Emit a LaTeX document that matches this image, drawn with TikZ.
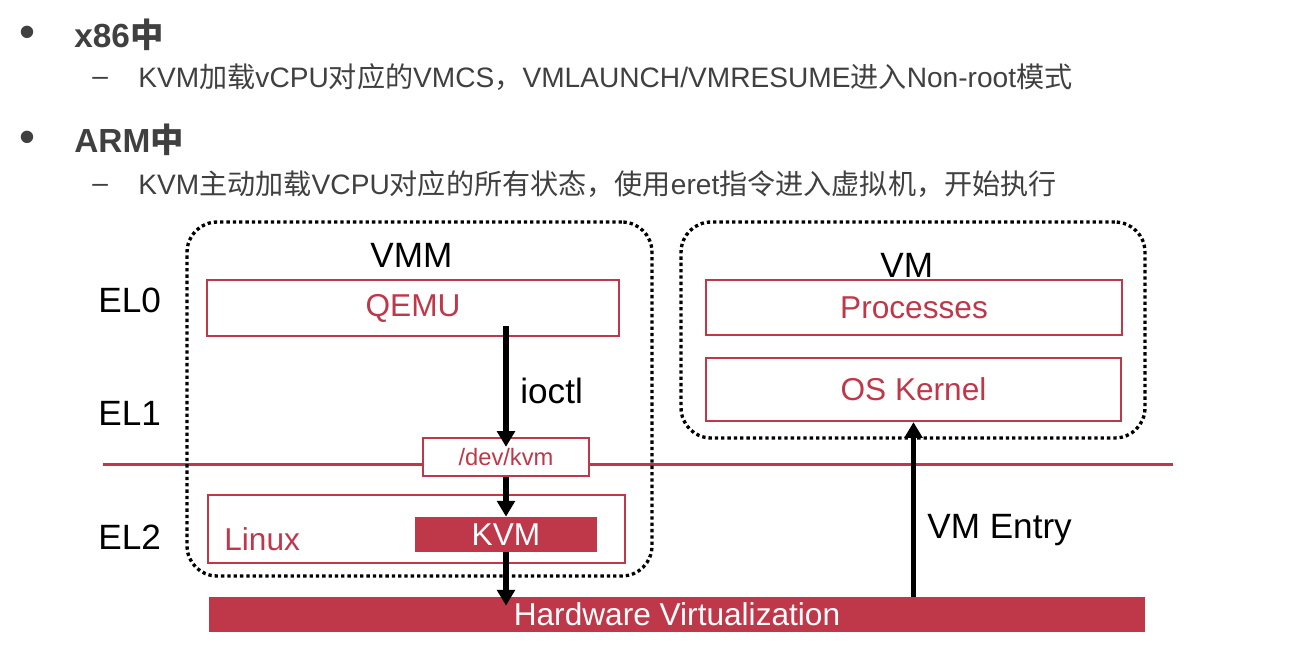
\documentclass[tikz,border=0pt]{standalone}
\usepackage{fontspec}
\setmainfont{Liberation Sans}
\newfontfamily\cjk{Noto Sans CJK SC}
\usetikzlibrary{arrows.meta}
\definecolor{kvmred}{RGB}{191,56,73}
\definecolor{textgray}{RGB}{64,64,64}
\newcommand{\zh}[1]{{\cjk #1}}
\newcommand{\fs}[1]{\fontsize{#1}{#1}\selectfont}

\begin{document}
\begin{tikzpicture}[x=0.02cm,y=-0.02cm,
	redbox/.style={draw=kvmred,line width=1.3pt,text=kvmred,font=\fs{18},inner sep=0pt},
	redfill/.style={fill=kvmred,text=white,font=\fs{18},inner sep=0pt},
	dotbox/.style={draw,line width=1.9pt,dash pattern=on 1.9pt off 1.7pt,rounded corners=0.6cm},
	label/.style={font=\fs{20},inner sep=0pt,anchor=base west},
	bigarrow/.style={line width=3pt,-{Triangle[width=10pt,length=9pt]}},
	head/.style={text=textgray,inner sep=0pt,anchor=base west}]
	\useasboundingbox (0,0) rectangle (1302,656);

	% text above the diagram
	\node[head,font=\fs{26}] (dot1) at (19,47) {•};
	\node[head,font=\fs{19}\bfseries] (x86) at (74,47) {x86\zh{中}};
	\node[head,font=\fs{16}] (dash1) at (92,85) {–};
	\node[head,font=\fs{16}] (x86text) at (138,87)
		{KVM\zh{加载}vCPU\zh{对应的}VMCS\zh{，}VMLAUNCH/VMRESUME\zh{进入}Non-root\zh{模式}};
	\node[head,font=\fs{26}] (dot2) at (19,152) {•};
	\node[head,font=\fs{19}\bfseries] (arm) at (74,152) {ARM\zh{中}};
	\node[head,font=\fs{16}] (dash2) at (92,192) {–};
	\node[head,font=\fs{16}] (armtext) at (138,194)
		{KVM\zh{主动加载}VCPU\zh{对应的所有状态，使用}eret\zh{指令进入虚拟机，开始执行}};

	% exception levels
	\coordinate (elleft) at (103,464);
	\coordinate (elright) at (1173,464);
	\draw[kvmred,line width=1.7pt] (elleft) -- (elright);
	\node[label] (el0) at (98,312) {EL0};
	\node[label] (el1) at (98,425) {EL1};
	\node[label] (el2) at (98,549) {EL2};

	% VMM side
	\node[dotbox,minimum width=9.3cm,minimum height=7.08cm] (vmm) at (419.5,399) {};
	\node[label] (vmmtitle) at (370,267) {VMM};
	\node[redbox,minimum width=8.24cm,minimum height=1.12cm] (qemu) at (413,308) {QEMU};
	\node[redbox,fill=white,font=\fs{13.5},minimum width=3.32cm,minimum height=0.76cm] (devkvm) at (506,457) {/dev/kvm};
	\node[redbox,minimum width=8.34cm,minimum height=1.36cm] (linux) at (416.5,529) {};
	\node[label,text=kvmred,font=\fs{18}] (linuxtitle) at (224,550) {Linux};
	\node[redfill,minimum width=3.64cm,minimum height=0.7cm] (kvm) at (506,534.5) {KVM};

	% VM side
	\node[dotbox,minimum width=9.28cm,minimum height=4.32cm] (vm) at (913,330) {};
	\node[label] (vmtitle) at (880,277) {VM};
	\node[redbox,minimum width=8.32cm,minimum height=1.1cm] (procs) at (914,307.5) {Processes};
	\node[redbox,minimum width=8.3cm,minimum height=1.26cm] (oskernel) at (913.5,389.5) {OS Kernel};

	\node[redfill,minimum width=18.72cm,minimum height=0.7cm] (hw) at (677,614.5) {Hardware Virtualization};

	% arrows
	\draw[bigarrow] ([yshift=0.22cm]qemu.south -| devkvm.north) -- ([yshift=-0.2cm]devkvm.north);
	\node[label] (ioctl) at (520,403) {ioctl};
	\draw[bigarrow] (devkvm.south) -- (kvm.north);
	\draw[bigarrow] (kvm.south) -- ([yshift=-0.18cm]hw.north -| kvm.south);
	\draw[bigarrow] (hw.north -| oskernel.south) -- (oskernel.south);
	\node[label] (vmentry) at (927,538) {VM Entry};
\end{tikzpicture}
\end{document}
